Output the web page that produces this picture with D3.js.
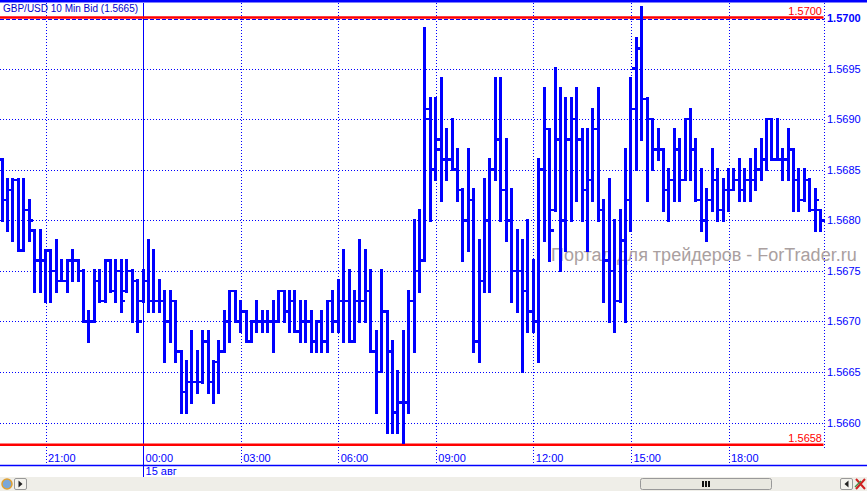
<!DOCTYPE html>
<html>
<head>
<meta charset="utf-8">
<script src="https://cdn.jsdelivr.net/npm/d3@7"></script>
<style>
  html, body { margin: 0; padding: 0; background: #fff; }
  svg { display: block; font-family: "Liberation Sans", Arial, sans-serif; }
</style>
</head>
<body>
<div id="chart"></div>
<script>
// GBP/USD 10 min bars, values in pips above 1.5600
const opens  = [86,82,83,84,77,81,79,76,76,77,75,74,74,76,76,75,70,70,74,72,76,73,75,73,75,74,72,74,72,72,
                72,70,72,67,63,64,64,64,68,64,66,67,70,73,70,71,68,70,70,70,70,70,73,71,72,69,70,70,68,70,
                68,72,70,72,72,68,72,72,73,67,65,71,67,61,62,62,72,75,76,91,85,88,86,86,85,83,80,82,68,74,
                80,85,88,83,80,75,75,73,71,70,85,89,81,88,80,88,90,88,83,84,89,81,76,75,72,78,82,95,97,92,
                90,87,87,83,84,87,84,90,87,82,80,82,84,81,83,83,84,83,84,84,85,86,90,86,86,86,87,84,82,84,
                81,81];
const highs  = [86,84,84,84,84,82,79,79,77,77,78,76,76,77,76,75,71,75,75,76,76,76,76,76,75,74,75,78,77,74,
                73,73,72,67,66,69,67,69,69,66,68,71,73,73,72,71,70,72,71,71,72,73,73,73,73,72,72,71,70,71,
                72,73,74,77,75,73,78,77,75,69,75,71,68,65,69,73,80,81,99,92,92,94,89,90,87,83,87,83,78,84,
                86,94,94,88,83,79,78,80,76,86,93,89,95,93,92,92,93,89,89,91,93,82,84,80,81,87,94,98,101,92,
                90,89,87,85,89,88,90,91,88,85,83,87,85,84,85,85,86,85,86,87,88,90,90,90,87,89,87,85,85,84,
                83,81];
const lows   = [80,79,78,77,77,78,73,73,72,72,73,74,73,74,74,70,68,70,72,72,73,72,71,73,70,69,72,71,71,71,
                66,68,66,61,61,62,63,64,63,62,63,67,68,70,69,68,68,69,69,69,67,70,70,69,69,68,68,67,67,67,
                67,69,69,68,68,68,70,70,67,61,65,59,59,59,58,61,67,73,76,80,84,82,84,85,82,76,77,67,66,73,
                73,84,80,78,72,71,65,69,69,66,78,76,81,75,77,80,82,80,77,82,80,72,70,69,72,70,79,85,88,82,
                85,86,81,80,82,82,84,84,82,79,78,81,80,80,81,83,82,82,82,83,84,85,86,86,84,84,81,81,82,81,
                79,79];
const closes = [82,83,84,77,81,80,76,76,77,75,74,74,76,76,75,70,70,74,72,76,73,75,72,75,74,70,74,72,72,72,
                70,72,67,63,64,64,64,68,64,66,67,70,73,70,71,68,70,70,70,70,70,73,71,72,69,70,70,68,70,68,
                72,70,72,72,68,72,72,73,67,65,71,67,61,62,62,72,75,76,90,85,87,86,86,85,83,80,82,68,74,80,
                85,88,83,80,75,75,73,71,70,85,89,79,88,80,88,90,88,83,84,89,81,76,75,72,78,82,91,97,92,90,
                87,87,83,84,87,84,90,87,82,80,82,84,81,83,83,84,83,84,84,85,86,90,86,86,86,87,84,82,84,81,
                82,80];

const firstBar = new Date(2013, 7, 14, 19, 40);
const barMinutes = 10;
const priceTicks = [1.5660, 1.5665, 1.5670, 1.5675, 1.5680, 1.5685, 1.5690, 1.5695, 1.5700];
const maxLevel = 1.5700, minLevel = 1.5658;
const dayLabel = "15 авг";
const title = "GBP/USD 10 Min Bid (1.5665)";
const watermark = "Портал для трейдеров - ForTrader.ru";

const bars = opens.map((o, i) => ({
  t: d3.timeMinute.offset(firstBar, barMinutes * i),
  o: 1.56 + o / 10000, h: 1.56 + highs[i] / 10000,
  l: 1.56 + lows[i] / 10000, c: 1.56 + closes[i] / 10000
}));

const W = 867, H = 491;
const blue = "#0000ff";
const plotRight = 824.5, axisBottom = 465.5;

const svg = d3.select("#chart").append("svg")
  .attr("width", W).attr("height", H);

const x = d3.scaleTime()
  .domain([new Date(2013, 7, 14, 21, 0), new Date(2013, 7, 15, 18, 0)])
  .range([45.5, 728.5]);
const y = d3.scaleLinear().domain([1.5660, 1.5700]).range([422.5, 18]);

// horizontal grid
svg.append("g").selectAll("line").data(priceTicks).join("line")
  .attr("x1", 0).attr("x2", plotRight)
  .attr("y1", d => Math.round(y(d)) + 0.5 + (d === maxLevel ? 1 : 0))
  .attr("y2", d => Math.round(y(d)) + 0.5 + (d === maxLevel ? 1 : 0))
  .attr("stroke", blue).attr("stroke-width", 1)
  .attr("stroke-dasharray", d => d === maxLevel ? "4,2" : "1,2");

// vertical grid (midnight = solid day separator)
const hourTicks = x.ticks(d3.timeHour.every(3));
svg.append("g").attr("shape-rendering", "crispEdges")
  .selectAll("line").data(hourTicks).join("line")
  .attr("x1", d => Math.round(x(d)) + 0.5).attr("x2", d => Math.round(x(d)) + 0.5)
  .attr("y1", 3).attr("y2", d => d.getHours() === 0 ? 477 : axisBottom)
  .attr("stroke", blue).attr("stroke-width", 1)
  .attr("stroke-dasharray", d => d.getHours() === 0 ? null : "1,2");

// right axis dotted line
svg.append("line")
  .attr("x1", plotRight).attr("x2", plotRight).attr("y1", 3).attr("y2", 450)
  .attr("stroke", blue).attr("stroke-dasharray", "1,2");

// watermark
svg.append("text")
  .attr("x", 551).attr("y", 261)
  .attr("font-size", 18).attr("fill", "#aaa0a0")
  .text(watermark);

// min / max levels
[maxLevel, minLevel].forEach((lv, i) => {
  const yy = y(lv) + (i === 0 ? -0.5 : 2);
  svg.append("line")
    .attr("x1", 0).attr("x2", plotRight - 1).attr("y1", yy).attr("y2", yy)
    .attr("stroke", "#ff0000").attr("stroke-width", 2.5);
  svg.append("text")
    .attr("x", 822).attr("y", yy - 2.5).attr("text-anchor", "end")
    .attr("font-size", 11).attr("fill", "#ff0000")
    .text(d3.format(".4f")(lv));
});

// bars
const g = svg.append("g").attr("fill", blue).attr("shape-rendering", "crispEdges");
const bw = 3, tw = 2.5, th = 2.5;
g.selectAll("rect.v").data(bars).join("rect").attr("class", "v")
  .attr("x", d => x(d.t) - bw / 2).attr("width", bw)
  .attr("y", d => y(d.h) - 1.5).attr("height", d => y(d.l) - y(d.h) + 3);
g.selectAll("rect.o").data(bars).join("rect").attr("class", "o")
  .attr("x", d => x(d.t) - bw / 2 - tw).attr("width", tw)
  .attr("y", d => y(d.o) - th / 2).attr("height", th);
g.selectAll("rect.c").data(bars).join("rect").attr("class", "c")
  .attr("x", d => x(d.t) + bw / 2).attr("width", tw)
  .attr("y", d => y(d.c) - th / 2).attr("height", th);

// top border
svg.append("rect").attr("x", 0).attr("y", 0).attr("width", W).attr("height", 2.5).attr("fill", blue);

// title
svg.append("text").attr("x", 3).attr("y", 11.5)
  .attr("font-size", 10).attr("fill", "#0000cc").text(title);

// price axis
const yAxis = svg.append("g").attr("transform", "translate(826,0)")
  .call(d3.axisRight(y).tickValues(priceTicks).tickFormat(d3.format(".4f")).tickSize(0).tickPadding(1));
yAxis.select(".domain").remove();
yAxis.selectAll("text")
  .attr("font-size", 11).attr("font-family", "Liberation Sans, Arial, sans-serif")
  .attr("fill", blue)
  .attr("font-weight", d => d === maxLevel ? "bold" : null);

// time axis
const xAxis = svg.append("g").attr("transform", `translate(0,${axisBottom})`)
  .call(d3.axisBottom(x).ticks(d3.timeHour.every(3)).tickFormat(d3.timeFormat("%H:%M")).tickSize(0).tickPadding(0));
xAxis.select(".domain").remove();
xAxis.selectAll("line").remove();
xAxis.selectAll("text")
  .attr("text-anchor", "start").attr("dx", 2).attr("y", -3.5).attr("dy", 0)
  .attr("font-size", 11).attr("font-family", "Liberation Sans, Arial, sans-serif")
  .attr("fill", blue);

svg.append("line").attr("x1", 0).attr("x2", W).attr("y1", axisBottom).attr("y2", axisBottom)
  .attr("stroke", blue).attr("stroke-width", 1.5);

svg.selectAll("text.day").data(x.ticks(d3.timeDay.every(1))).join("text").attr("class", "day")
  .attr("x", d => x(d) + 2.5).attr("y", 475)
  .attr("font-size", 11).attr("fill", blue).text(dayLabel);

// scrollbar strip
const sb = svg.append("g");
sb.append("rect").attr("x", 0).attr("y", 477).attr("width", W).attr("height", 14).attr("fill", "#efeee8");
sb.append("circle").attr("cx", 7).attr("cy", 484).attr("r", 5).attr("fill", "#7aa6d8").attr("stroke", "#e0a030").attr("stroke-width", 1.5);
[[14.5, -1], [840.5, 1]].forEach(([bx, dir]) => {
  sb.append("rect").attr("x", bx).attr("y", 478.5).attr("width", 12).attr("height", 11)
    .attr("fill", "#f4f3ee").attr("stroke", "#999").attr("rx", 1.5);
  const cx = bx + 6;
  sb.append("path")
    .attr("d", `M${cx - 2 * dir},484 L${cx + 2 * dir},480.5 L${cx + 2 * dir},487.5 Z`)
    .attr("fill", "#222");
});
sb.append("rect").attr("x", 640.5).attr("y", 478.5).attr("width", 131).attr("height", 11)
  .attr("fill", "#e9e8e0").attr("stroke", "#999").attr("rx", 2);
[702, 705, 708].forEach(gx => sb.append("rect").attr("x", gx).attr("y", 481).attr("width", 2).attr("height", 6).attr("fill", "#111"));
sb.append("path").attr("d", "M856,479 L865,489 M865,479 L856,489")
  .attr("stroke", "#d02020").attr("stroke-width", 2);
sb.append("path").attr("d", "M855,487 L861,481").attr("stroke", "#4a8a4a").attr("stroke-width", 1.5);
</script>
</body>
</html>
